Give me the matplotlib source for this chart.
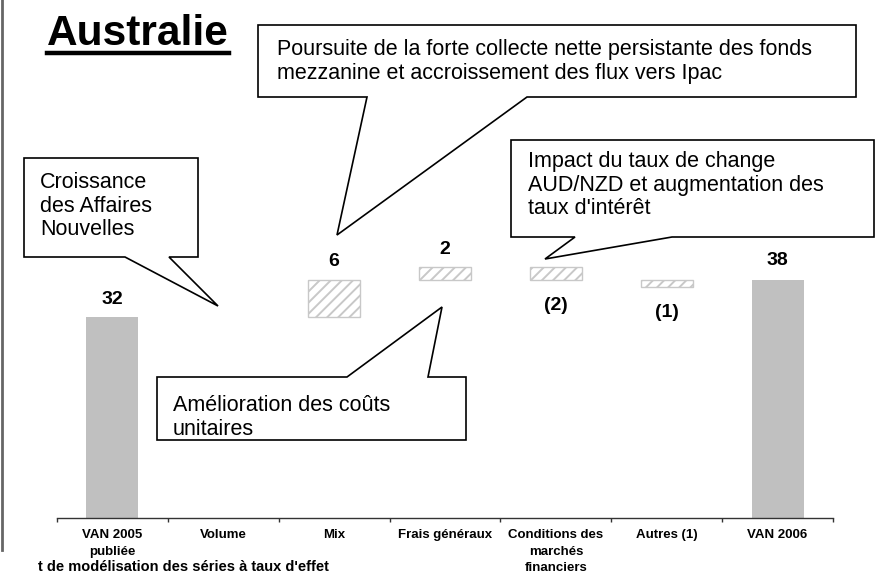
import matplotlib
matplotlib.use("Agg")
import matplotlib.pyplot as plt
from matplotlib.patches import Polygon
from matplotlib.lines import Line2D
from matplotlib.transforms import Affine2D

plt.rcParams['font.family'] = ['Liberation Sans', 'DejaVu Sans']
plt.rcParams['hatch.linewidth'] = 1.4

W, H = 885, 574

# waterfall data
categories = ["VAN 2005\npubliée", "Volume", "Mix", "Frais généraux",
              "Conditions des\nmarchés\nfinanciers", "Autres (1)", "VAN 2006"]
start_value = 32
deltas = [0, 6, 2, -2, -1.2]
end_value = 38

# callouts: text, box (left, top, right, bottom) in px, side of pointer, base xs, tip
callouts = [
    dict(text="Croissance\ndes Affaires\nNouvelles", box=(24, 158, 198, 257),
         side="bottom", base=(125, 169), tip=(218, 306), txt=(40, 172)),
    dict(text="Poursuite de la forte collecte nette persistante des fonds\n"
              "mezzanine et accroissement des flux vers Ipac",
         box=(258, 25, 856, 97), side="bottom", base=(367, 527), tip=(337, 235),
         txt=(277, 39)),
    dict(text="Impact du taux de change\nAUD/NZD et augmentation des\ntaux d'intérêt",
         box=(511, 140, 874, 237), side="bottom", base=(575, 672), tip=(545, 259),
         txt=(528, 151)),
    dict(text="Amélioration des coûts\nunitaires", box=(157, 377, 466, 440),
         side="top", base=(347, 428), tip=(442, 307), txt=(173, 395)),
]

fig = plt.figure(figsize=(W / 100, H / 100), dpi=100)
px = Affine2D().scale(1 / W, -1 / H).translate(0, 1) + fig.transFigure

# axes placed so the baseline sits at y=518 px
ax = fig.add_axes([57 / W, (H - 518) / H, 776 / W, 488 / H])
ax.set_xlim(-0.5, len(categories) - 0.5)
ax.set_ylim(0, 488 / 6.27)

bw = 0.47
grey = "#c0c0c0"
ax.bar(0, start_value, width=bw, color=grey, zorder=2)
ax.bar(len(categories) - 1, end_value, width=bw, color=grey, zorder=2)

def lbl(v):
    return f"({abs(round(v))})" if v < 0 else f"{round(v)}"

ax.annotate(lbl(start_value), (0, start_value), xytext=(0, 13), textcoords="offset points",
            ha="center", va="center", fontsize=14, fontweight="bold")
ax.annotate(lbl(end_value), (len(categories) - 1, end_value), xytext=(0, 14),
            textcoords="offset points", ha="center", va="center", fontsize=14,
            fontweight="bold")

level = start_value
for i, d in enumerate(deltas, start=1):
    if d == 0:
        continue
    bottom = level if d > 0 else level + d
    ax.bar(i, abs(d), bottom=bottom, width=bw, facecolor="white",
           edgecolor="#c8c8c8", hatch="///", linewidth=1.0, zorder=2)
    if d > 0:
        ax.annotate(lbl(d), (i, level + d), xytext=(0, 13), textcoords="offset points",
                    ha="center", va="center", fontsize=14, fontweight="bold")
    else:
        ax.annotate(lbl(d), (i, level + d), xytext=(0, -18.5), textcoords="offset points",
                    ha="center", va="center", fontsize=14, fontweight="bold")
    level += d
    if i == 4:
        level = 38  # next bar starts back at 38 in the picture

for s in ["top", "right", "left"]:
    ax.spines[s].set_visible(False)
ax.spines["bottom"].set_color("#333333")
ax.spines["bottom"].set_linewidth(1.0)
ax.set_yticks([])
ax.set_xticks(range(len(categories)))
ax.set_xticklabels(categories, fontsize=9.5, fontweight="bold", linespacing=1.5)
ax.tick_params(axis="x", which="major", length=0, pad=8)
ax.set_xticks([i - 0.5 for i in range(len(categories) + 1)], minor=True)
ax.tick_params(axis="x", which="minor", length=3, width=1, color="#333333", direction="out")

# callouts
for c in callouts:
    l, t, r, b = c["box"]
    b1, b2 = sorted(c["base"])
    if c["side"] == "bottom":
        pts = [(l, t), (r, t), (r, b), (b2, b), c["tip"], (b1, b), (l, b)]
    else:
        pts = [(l, t), (b1, t), c["tip"], (b2, t), (r, t), (r, b), (l, b)]
    fig.patches.append(Polygon(pts, closed=True, facecolor="white", edgecolor="black",
                               linewidth=1.2, transform=px, zorder=5))
    fig.text(c["txt"][0], c["txt"][1], c["text"], transform=px, ha="left", va="top",
             fontsize=15.5, linespacing=1.17, zorder=6)

# title with underline
title = fig.text(47, 45, "Australie", transform=px, ha="left", va="baseline",
                 fontsize=30.5, fontweight="bold")
fig.canvas.draw()
bb = title.get_window_extent()
fig.lines.append(Line2D([bb.x0 / W, bb.x1 / W], [1 - 53 / H, 1 - 53 / H],
                        transform=fig.transFigure, color="black", linewidth=3.2))

# left border line
fig.lines.append(Line2D([2, 2], [0, 550], transform=px, color="#666666", linewidth=2))

# footnote cut off at bottom
fig.text(38, 571, "t de modélisation des séries à taux d'effet", transform=px,
         ha="left", va="baseline", fontsize=10.5, fontweight="bold")

fig.savefig("out.png", dpi=100)
